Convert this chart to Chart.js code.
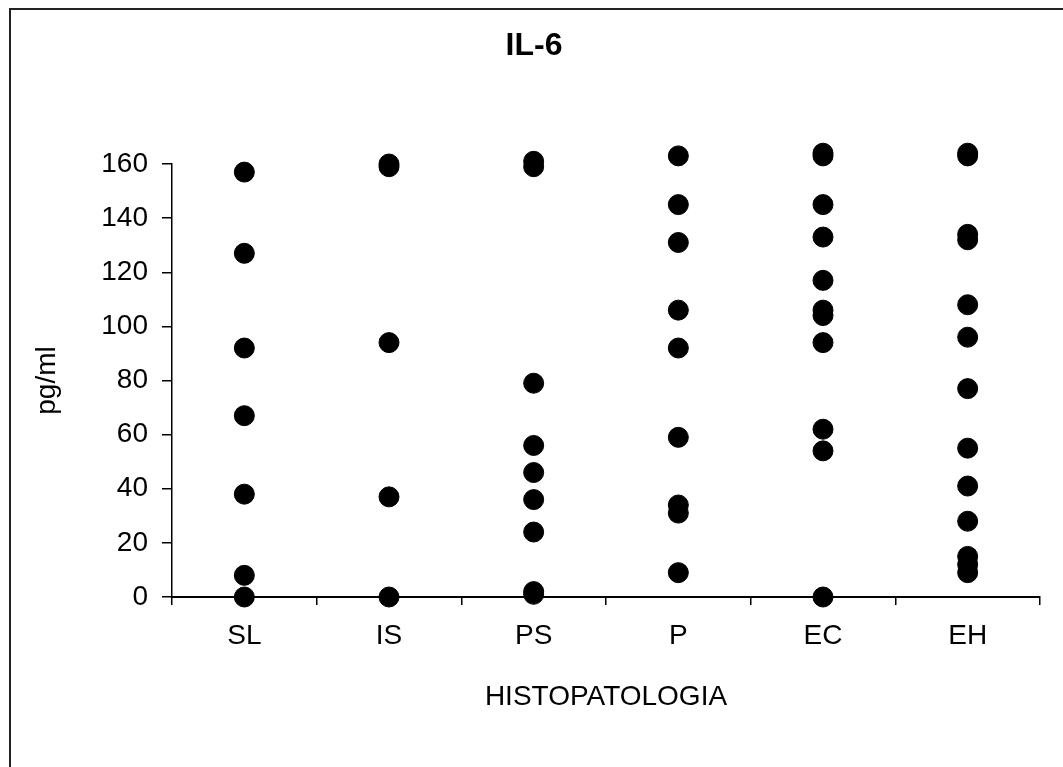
<!DOCTYPE html>
<html>
<head>
<meta charset="utf-8">
<script src="https://cdn.jsdelivr.net/npm/chart.js@4/dist/chart.umd.min.js"></script>
<style>
  body { margin: 0; background: #fff; }
  #chart { display: block; }
</style>
</head>
<body>
<canvas id="chart" width="1063" height="767"></canvas>
<script>
const categories = ['SL', 'IS', 'PS', 'P', 'EC', 'EH'];
const slValues = [157, 127, 92, 67, 38, 8, 0];
const isValues = [160, 159, 94, 37, 0];
const psValues = [161, 159, 79, 56, 46, 36, 24, 2, 1];
const pValues = [163, 145, 131, 106, 92, 59, 34, 31, 9];
const ecValues = [164, 163, 145, 133, 117, 106, 104, 94, 62, 54, 0];
const ehValues = [164, 163, 134, 132, 108, 96, 77, 55, 41, 28, 15, 12, 9];
const yTicks = [0, 20, 40, 60, 80, 100, 120, 140, 160];
const chartTitle = 'IL-6';

const FONT = "'Liberation Sans', Arial, sans-serif";

function buildPoints() {
    const groups = [slValues, isValues, psValues, pValues, ecValues, ehValues];
    const points = [];
    groups.forEach((vals, i) => {
        vals.forEach(v => points.push({ x: categories[i], y: v }));
    });
    return points;
}

// white background, the scanned frame lines (left and top) and the title
const framePlugin = {
    id: 'frame',
    beforeDraw(chart) {
        const ctx = chart.ctx;
        ctx.save();
        ctx.fillStyle = '#fff';
        ctx.fillRect(0, 0, chart.width, chart.height);
        ctx.strokeStyle = '#222';
        ctx.lineWidth = 2;
        ctx.beginPath();
        ctx.moveTo(10, 767);
        ctx.lineTo(10, 9);
        ctx.lineTo(1063, 9);
        ctx.stroke();

        ctx.fillStyle = '#000';
        ctx.font = "bold 32px " + FONT;
        ctx.textAlign = 'center';
        ctx.textBaseline = 'middle';
        ctx.fillText(chartTitle, 534, 46);
        ctx.restore();
    }
};

const ctx = document.getElementById('chart').getContext('2d');
const dotChart = new Chart(ctx, {
    type: 'scatter',
    data: {
        datasets: [{
            data: buildPoints(),
            backgroundColor: '#000',
            borderColor: '#000',
            borderWidth: 1,
            pointRadius: 10,
            pointHoverRadius: 10,
            clip: false
        }]
    },
    options: {
        responsive: false,
        animation: false,
        layout: { padding: { left: 0, right: 23, top: 164, bottom: 0 } },
        plugins: {
            legend: { display: false },
            tooltip: { enabled: false },
            title: { display: false }
        },
        scales: {
            x: {
                type: 'category',
                labels: categories,
                offset: true,
                grid: {
                    offset: true,
                    drawOnChartArea: false,
                    drawTicks: true,
                    tickLength: 8,
                    color: '#000',
                    lineWidth: 1.5
                },
                border: { display: true, color: '#000', width: 2 },
                ticks: {
                    color: '#000',
                    padding: 14,
                    font: { family: FONT, size: 28, lineHeight: 1.2 }
                },
                title: {
                    display: true,
                    text: 'HISTOPATOLOGIA',
                    color: '#000',
                    font: { family: FONT, size: 28, lineHeight: 1.2 },
                    padding: { top: 0, bottom: 53 }
                },
                afterFit(scale) { scale.height = 170; }
            },
            y: {
                min: 0,
                max: 160,
                afterBuildTicks(scale) {
                    scale.ticks = yTicks.map(v => ({ value: v }));
                },
                grid: {
                    drawOnChartArea: false,
                    drawTicks: true,
                    tickLength: 10,
                    color: '#000',
                    lineWidth: 1.5
                },
                border: { display: true, color: '#000', width: 1.5 },
                ticks: {
                    color: '#000',
                    padding: 14,
                    font: { family: FONT, size: 28, lineHeight: 1.2 }
                },
                title: {
                    display: true,
                    text: 'pg/ml',
                    color: '#000',
                    font: { family: FONT, size: 28, lineHeight: 1.2 },
                    padding: { top: 30, bottom: 0 }
                },
                afterFit(scale) { scale.width = 172; }
            }
        }
    },
    plugins: [framePlugin]
});
</script>
</body>
</html>
